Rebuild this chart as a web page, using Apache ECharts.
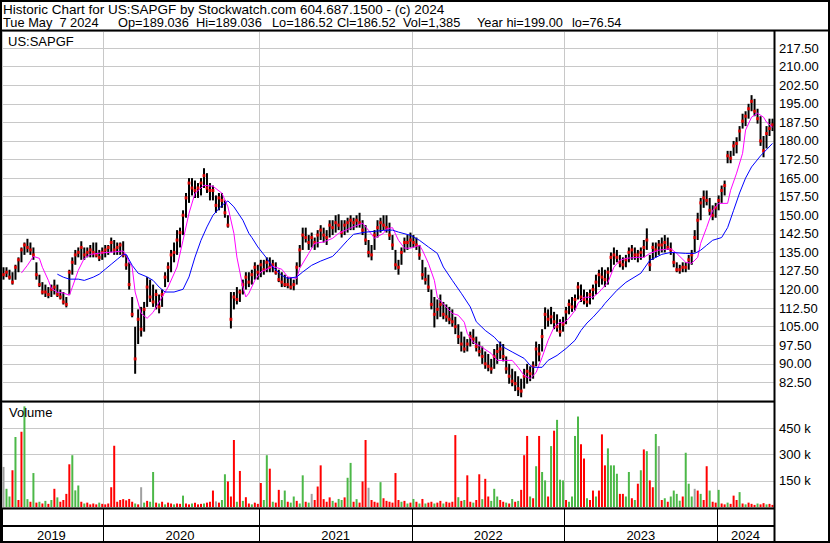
<!DOCTYPE html>
<html><head><meta charset="utf-8">
<script src="https://cdn.jsdelivr.net/npm/echarts@6/dist/echarts.min.js"></script>
<style>html,body{margin:0;padding:0;background:#fff}#c{width:830px;height:543px}</style>
</head><body><div id="c"></div><script>
// ---------- DATA ----------
const years = ['2019','2020','2021','2022','2023','2024'];
const weeksPerYear = [34,52,51,51,51,19];

const high = [129,129,128,127,130,133,137,139,140.5,139, 137,131,126,123,122,121,122,124,122,120,
 119,117,128,133,136,137,139.5,137,137,138, 139,139,136,137,138,138,141,140,139,139,
 139.5,134,131,117,105,112,113,115,125,124, 122,120,118,120,127,131,136,139,144,145,
 152,159,165,165,164,163,165,169,167,163, 162,158,159,159,156,150,119,119,121,120,
 124,127,127,128,131,130,132,132,133,133, 132,131,128,127,126,125,125,124,131,138,
 145,145,142,143,141,144,146,145,144,148, 148,150,150.4,148,148,149,150,149,150,151,
 148,146,140,138,144,148,149,150,150,147, 142,136,132,137,141,142,143,142,141,138,
 132,129,126,120,117,116,118,115,114,113, 112,109,106,103,101,100,103,104,101,99,
 97,95,94,92,96,98,99,98,93,90, 88,87,85,84,88,90,89,91,99,98,
 104,112.8,112,113,111,110,108,109,113,116, 117,118,123,122,120,119,120,122,126,128,
 129,128,129,135,137,136,134,133,134,137, 138,137,136,137,140,144.7,134,139,139,140,
 141,142,141,139,135,131,130,131,131,134, 136,144,151,157,160,160,157,154,155,158,
 162,164,176,176,180,181.5,186,191,192,195, 198.5,197,193,190,182,186,189,189];
const low = [124,125,124,122,124,127,131,134,135,134, 132,124,121,118,117,116.5,117,118,117,116,
 114,112.8,118,126,130,133,132,132,133,133, 133,133,131.5,132,133,134,135,134,134,134,
 133,128,120,108.8,86,98,101,103,113,115, 113,112,110.4,113,121,123,127,131,134,137,
 142,149,155,158,157,157,158,161,159,156, 156,151,152,153,149,145,104.3,112,114,115,
 118,120,121,122,124,124,125,126,127,127, 127,126,123,121,121,120.5,120,119.7,122,129,
 136,139,136,137,136,137,140,139,138,141, 142,143,144,141,142,143,144,144,145,145,
 142,138,133,131.8,136,141,143,144,143,140, 136,128,126,130,135,136,137,137,136,132,
 124,122,119,112,104.7,108,109,108,107,106, 105,102,98,95,94.5,95,97,98,95,93,
 90,88,87,86,88,90,92,91,86,82, 81,79,77,76.5,80,82,83,84,89,91,
 95,104,105,106,104,103,101,103,106,110, 111,111.6,116,115,114,113,114,116,118,121,
 122,121,122,127,130,131,129,128,129,131, 132,132,131,132,133,136,127.5,132,133,134,
 135,135,136,134,129,127,126.4,127,127,128, 130,135,140,148,153,154,150,148,149,152,
 155,158,171,171,174,175,180,185,186,189, 192,190,187,178,173.4,177,182,184];
const close = [126,127,125,123,129,132,136,138,137,136, 134,126,122,119,119,118,120,121,118,117,
 115,114,127,131,134,135,137,134,135,136, 135,134,133,135,136,137,139,136,137,138,
 134,130,122,110,92,108,104,112,121,117, 115,118,113,118,125,129,134,135,140,143,
 150,157,163,161,160,161,163,166,161,160, 160,154,157,156,151,146,108,117,116,119,
 122,125,123,126,129,127,130,128,131,129, 130,127,124,123,122,122,121,122,129,136,
 142,141,139,141,139,142,144,142,141,146, 145,147,146,143,146,147,148,147,148,147,
 144,140,135,134,142,145,147,146,145,142, 138,130,129,135,139,139,140,139,138,134,
 126,124,121,114,110,112,114,110,109,108, 107,105,101,98,96,98,101,100,97,95,
 93,90,89,88,93,95,96,93,88,85, 83,82,80,79,85,87,86,89,96,94,
 101,110,108,109,107,105,103,106,111,114, 113,116,121,117,116,115,118,120,123,126,
 125,124,127,133,134,133,131,130,132,135, 136,134,134,135,137,140,130,137,136,138,
 138,139,137,136,131,128,128,129,129,132, 134,141,148,155,157,156,152,150,153,156,
 160,162,174,173,178,179,184,188,190,193, 196,192,189,180,176,183,185,186.52];

// fast (magenta) and slow (blue) moving averages, read at sampled weeks
const maFast = [[6,126.7],[8,129.8],[10,133.4],[12,132.6],[13,129],[15,123.7],[16,120.5],[18,118.9],[20,118.6],[22,117.7],[23,120.9],[25,127.8],[27,132.6],[29,134.2],[33,134.8],[37,135.2],[40,135.6],[41,133.8],[42,131],[43,129.1],[44,119],[46,110.4],[48,108.4],[50,110.8],[53,117],[55,121],[58,129.1],[60,139.9],[62,150.8],[64,158.9],[67,162.1],[70,161.7],[73,158.9],[75,153.4],[77,142.7],[78,133.1],[80,121],[81,117],[82,118.5],[84,123.7],[86,127.1],[90,129.4],[93,128.2],[95,125.1],[98,124.5],[99,128.6],[102,134.6],[104,138.7],[107,139.2],[110,140.7],[112,142.7],[115,144.3],[118,145.9],[120,146.8],[122,143.9],[124,140.7],[127,142.7],[128,144.5],[130,145],[132,139.9],[134,136.7],[136,136.7],[139,137.9],[140,135.9],[142,130.6],[144,123.7],[145,116.9],[148,112.8],[150,110.4],[152,109.6],[154,106.8],[155,102.3],[157,98.7],[160,96.6],[163,94.2],[165,91.4],[167,91.4],[170,91.4],[172,88.6],[174,85.3],[176,84.1],[178,86.5],[180,92.6],[182,99.5],[184,104.8],[186,106.8],[187,106.4],[189,108.4],[191,111.6],[192,114.5],[194,116.9],[197,116.9],[199,118.9],[202,122.9],[204,129],[206,131.8],[208,132.6],[212,133],[214,133],[216,134.6],[219,135.9],[223,136.5],[225,134.6],[228,131],[230,130.6],[232,133],[233,138.7],[235,145.1],[237,152],[239,154.8],[242,154.8],[243,160.1],[245,167],[247,175],[248,184.4],[250,189.6],[252,191.2],[254,189.6],[255,187.6],[257,185.6]];
const maSlow = [[18,126.2],[20,125],[22,124.2],[25,124.2],[27,123.7],[30,125],[32,126.2],[34,128.2],[36,130.2],[38,132.2],[40,134.2],[41,134.2],[43,129.8],[45,126.6],[48,125.1],[50,123.7],[52,121],[54,119],[57,119],[60,120.1],[62,125.1],[64,133.1],[66,139.9],[68,145.3],[70,150],[73,154],[75,155.8],[77,153.4],[80,148],[82,142.7],[83,141],[85,137.2],[88,132.6],[90,129.1],[93,125.7],[95,124.5],[98,125.1],[100,127.1],[103,129.8],[106,131.5],[110,133.4],[112,135.9],[115,139.9],[117,142.3],[121,143.2],[124,143.5],[127,143.9],[130,144],[132,143.2],[136,141.9],[139,139.9],[142,137.2],[145,134.6],[147,129.1],[150,123.7],[153,118.5],[156,113],[158,107],[161,103.5],[164,100.8],[167,96.8],[170,94.8],[174,92.2],[176,89.4],[177,88.6],[180,88.6],[182,91.4],[185,93.4],[188,96.2],[191,99.5],[193,103.5],[195,106.5],[197,108.8],[200,112.8],[201,114.4],[205,119.7],[208,122.9],[213,126.6],[216,131.8],[220,134.2],[223,135],[228,134.6],[231,134.6],[233,135.9],[235,137.9],[237,139.9],[240,141],[242,145],[244,152],[246,159],[248,165],[250,169.5],[253,174],[255,176.5],[257,179]];

// weekly peak volume (thousands) and direction (u up / d down / n unchanged)
const volumeK = [229,104,60,210,400,40,430,575,45,30, 194,25,30,20,35,18,40,104,55,30,
 40,75,244,296,95,123,30,20,25,15, 20,15,25,18,15,20,113,350,30,40,
 45,38,46,30,20,15,113,25,35,30, 200,25,20,30,15,25,20,15,20,18,
 65,20,15,20,25,15,18,20,25,30, 94,32,25,40,187,146,60,383,30,206,
 35,56,20,15,25,18,137,40,296,219, 30,25,98,40,94,30,25,60,35,20,
 181,30,25,75,40,117,238,45,30,55, 35,25,46,40,55,167,252,30,45,25,
 146,383,110,40,30,25,142,50,35,30, 25,194,40,30,35,20,25,46,30,20,
 46,20,25,30,20,25,35,20,30,25, 30,411,56,35,40,181,30,25,40,187,
 45,161,60,35,104,60,40,30,25,20, 46,30,35,98,296,406,60,50,233,406,
 200,152,60,348,436,498,156,152,40,30, 60,406,517,358,277,50,40,94,60,94,
 415,238,335,238,238,190,75,75,60,200, 50,40,133,210,329,319,152,113,417,348,
 40,50,30,60,94,75,36,60,310,133, 60,104,94,75,40,233,94,30,25,98,
 20,15,25,18,65,40,85,20,15,25, 18,12,20,15,22,15,18,12];
const volumeDir = ['nuududduud','ududududud','ddduuududd','dduddddddd','ddddudnudu',
 'udududdudd','uddudddudd','dnduudddud','udduddduud','udduuduudu',
 'udundddddd','uduuduudud','ddndddUddd','dddudududu','dudduddudd',
 'ddududdudd','udduuuddud','ududddudud','uududuuudu','uuudduddud',
 'dduuuudduu','dudududdun','duduuuuduu','undudduddu','ddudddudud','dduddudd'].join('').toLowerCase();

const priceAxis = {min: 75, max: 224.4, step: 7.5};
const volumeAxis = {min: 0, max: 600, step: 150};

const headerLine1 = 'Historic Chart for US:SAPGF by Stockwatch.com 604.687.1500 - (c) 2024';
const headerFields = ['Tue May  7 2024','Op=189.036','Hi=189.036','Lo=186.52','Cl=186.52','Vol=1,385','Year hi=199.00','lo=76.54'];
const symbolLabel = 'US:SAPGF';
const volumeLabel = 'Volume';

// ---------- BUILD ----------
const categories = [];
const yearStart = new Set();
const yearMid = new Set();
let k = 0;
years.forEach((y, yi) => {
  yearStart.add(k);
  yearMid.add(k + Math.floor((weeksPerYear[yi] - 1) / 2));
  for (let w = 0; w < weeksPerYear[yi]; w++) categories.push(y + '-W' + (w + 1));
  k += weeksPerYear[yi];
});
const rangeData = high.map((h, i) => [i, low[i], h]);
const closeData = close.map((c, i) => [i, c]);
const volColors = {u: '#4cb848', d: '#ff0000', n: '#a0a0a0'};
const volData = volumeK.map((v, i) => ({value: v, itemStyle: {color: volColors[volumeDir[i] || 'd']}}));

const FONT = '"Liberation Sans", Arial, sans-serif';
const chart = echarts.init(document.getElementById('c'), null, {renderer: 'svg'});
const L = 2, R = 56;
const hidden = {show: false};
const fieldX = [3, 118, 196, 272, 337, 403, 477, 572];
chart.setOption({
  animation: false,
  backgroundColor: '#fff',
  textStyle: {fontFamily: FONT},
  grid: [
    {left: L, right: R, top: 31, height: 370},
    {left: L, right: R, top: 402, height: 105},
    {left: L, right: R, top: 509, height: 17}
  ],
  xAxis: [0, 1, 2].map(g => ({
    type: 'category', gridIndex: g, data: categories, boundaryGap: true,
    axisLine: g === 2 ? {show: true, lineStyle: {color: '#000', width: 2}} : hidden,
    axisTick: g === 2 ? {show: true, interval: i => yearStart.has(i), length: 16, lineStyle: {color: '#000', width: 1}} : hidden,
    axisLabel: g === 2 ? {show: true, interval: i => yearMid.has(i), formatter: v => v.slice(0, 4), fontSize: 13, color: '#000', margin: 3, fontFamily: FONT} : hidden,
    splitLine: {show: true, interval: i => yearStart.has(i), lineStyle: {color: g === 2 ? '#000' : '#c8c8c8', width: 1}}
  })),
  yAxis: [
    {type: 'value', gridIndex: 0, position: 'right', min: priceAxis.min, max: priceAxis.max, interval: priceAxis.step,
     axisLine: hidden, axisTick: hidden,
     axisLabel: {margin: 5, fontSize: 13, color: '#000', fontFamily: FONT, formatter: v => (v >= 80 && v <= 220) ? v.toFixed(2) : ''},
     splitLine: {lineStyle: {color: '#c8c8c8'}}},
    {type: 'value', gridIndex: 1, position: 'right', min: volumeAxis.min, max: volumeAxis.max, interval: volumeAxis.step,
     axisLine: hidden, axisTick: hidden,
     axisLabel: {margin: 5, fontSize: 13, color: '#000', fontFamily: FONT, formatter: v => (v > 0 && v < 600) ? v + ' k' : ''},
     splitLine: {lineStyle: {color: '#c8c8c8'}}},
    {type: 'value', gridIndex: 2, show: false, min: 0, max: 1, splitLine: hidden}
  ],
  series: [
    {type: 'custom', xAxisIndex: 0, yAxisIndex: 0, data: rangeData, encode: {x: 0, y: [1, 2]}, z: 2,
     renderItem: (params, api) => {
       const top = api.coord([api.value(0), api.value(2)]);
       const bot = api.coord([api.value(0), api.value(1)]);
       return {type: 'rect', shape: {x: top[0] - 1, y: top[1], width: 2, height: Math.max(1, bot[1] - top[1])}, style: {fill: '#000'}};
     }},
    {type: 'scatter', xAxisIndex: 0, yAxisIndex: 0, data: closeData, symbol: 'rect', symbolSize: 3, itemStyle: {color: '#ff0000'}, z: 3},
    {type: 'line', xAxisIndex: 0, yAxisIndex: 0, data: maFast, showSymbol: false, lineStyle: {color: '#ff00ff', width: 1}, z: 4},
    {type: 'line', xAxisIndex: 0, yAxisIndex: 0, data: maSlow, showSymbol: false, lineStyle: {color: '#0000ff', width: 1}, z: 4},
    {type: 'bar', xAxisIndex: 1, yAxisIndex: 1, data: volData, barWidth: 2}
  ],
  graphic: [
    {type: 'text', left: 3, top: 2, style: {text: headerLine1, font: '13.5px ' + FONT, fill: '#000'}},
    ...headerFields.map((t, i) => ({type: 'text', left: fieldX[i], top: 16, style: {text: t, font: '12.8px ' + FONT, fill: '#000'}})),
    {type: 'text', left: 8, top: 35, style: {text: symbolLabel, font: '13px ' + FONT, fill: '#000'}, z: 10},
    {type: 'text', left: 9, top: 406, style: {text: volumeLabel, font: '13px ' + FONT, fill: '#000'}, z: 10},
    {type: 'line', shape: {x1: 0, y1: 30.5, x2: 830, y2: 30.5}, style: {stroke: '#000', lineWidth: 2}, z: 20},
    {type: 'line', shape: {x1: 0, y1: 401.5, x2: 775, y2: 401.5}, style: {stroke: '#000', lineWidth: 2}, z: 20},
    {type: 'line', shape: {x1: 0, y1: 508.5, x2: 775, y2: 508.5}, style: {stroke: '#000', lineWidth: 2}, z: 20},
    {type: 'line', shape: {x1: 774.5, y1: 30, x2: 774.5, y2: 543}, style: {stroke: '#000', lineWidth: 2}, z: 20},
    {type: 'rect', shape: {x: 1, y: 1, width: 828, height: 541}, style: {fill: null, stroke: '#000', lineWidth: 2}, z: 20}
  ]
});
</script></body></html>
